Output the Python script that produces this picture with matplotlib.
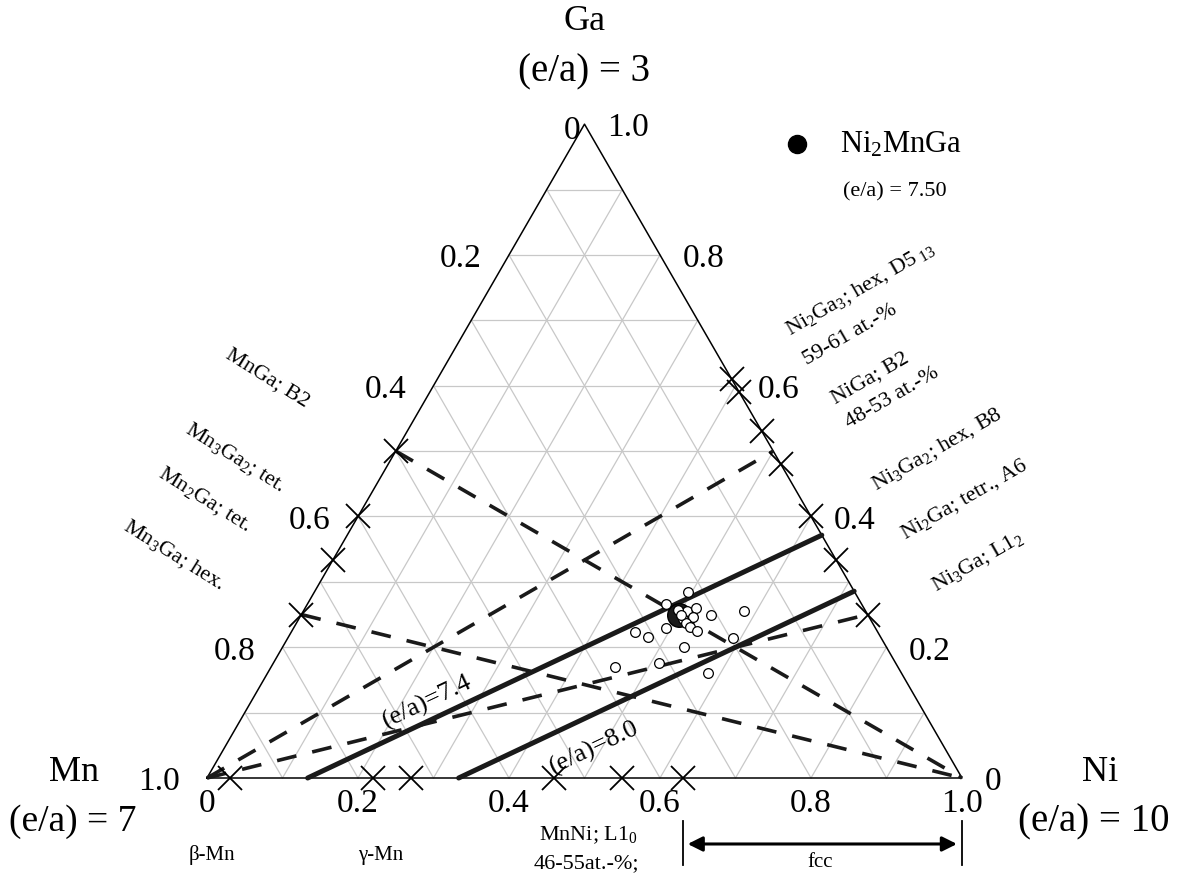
import numpy as np
import matplotlib
matplotlib.use("Agg")
import matplotlib.pyplot as plt

plt.rcParams['font.family'] = ['Liberation Serif', 'DejaVu Serif']
plt.rcParams['mathtext.fontset'] = 'custom'
plt.rcParams['mathtext.rm'] = 'Liberation Serif'
plt.rcParams['mathtext.it'] = 'Liberation Serif:italic'

# valence electrons per atom of the pure elements
ea_mn, ea_ni, ea_ga = 7, 10, 3

# compositions are given as (Ni fraction, Ga fraction); Mn is the rest
ni_pts = [0.495, 0.475, 0.508, 0.518, 0.521, 0.509, 0.543, 0.516, 0.524, 0.537, 0.493,
          0.584, 0.455, 0.476, 0.590, 0.532, 0.511, 0.456, 0.583, 0.495, 0.503]
ga_pts = [0.284, 0.266, 0.255, 0.260, 0.246, 0.243, 0.249, 0.237, 0.231, 0.225, 0.229,
          0.255, 0.223, 0.216, 0.214, 0.200, 0.176, 0.170, 0.161, 0.257, 0.249]

heusler = (0.5, 0.25)   # Ni2MnGa

# binary phases marked on the triangle edges
mnga_side_ga = [0.5, 0.4, 1 / 3, 0.25]
niga_side_ga = [0.61, 0.59, 0.53, 0.48, 0.4, 1 / 3, 0.25]
mnni_side_ni = [0.03, 0.22, 0.27, 0.46, 0.55, 0.63]

# tie lines between phases
tie_lines = [((0.0, 0.5), (1.0, 0.0)),
             ((0.0, 0.25), (1.0, 0.0)),
             ((0.0, 0.0), (0.5, 0.5)),
             ((0.0, 0.0), (0.75, 0.25))]

ea_lines = [7.4, 8.0]
ea_label_pos = [(0.2914, 0.102), (0.5126, 0.041)]
fcc_range = (0.63, 1.0)

tick_vals = [0, 0.2, 0.4, 0.6, 0.8, 1.0]
tick_text = ['0', '0.2', '0.4', '0.6', '0.8', '1.0']

H = np.sqrt(3) / 2


def tern(ni, ga):
    ni = np.asarray(ni, dtype=float)
    ga = np.asarray(ga, dtype=float)
    return ni + ga / 2, ga * H


fig = plt.figure(figsize=(11.78, 8.78), dpi=100)
ax = fig.add_axes([0, 0, 1, 1])
ax.set_xlim(-207 / 755, 971 / 755)
ax.set_ylim(-99 / 755, 779 / 755)
ax.axis('off')

# grid
for k in range(1, 10):
    t = k / 10
    for a, b in [((0, t), (1 - t, t)), ((t, 0), (t, 1 - t)), ((1 - t, 0), (0, 1 - t))]:
        x, y = tern([a[0], b[0]], [a[1], b[1]])
        ax.plot(x, y, color='#c8c8c8', lw=0.9, zorder=1)

# frame
x, y = tern([0, 1, 0, 0], [0, 0, 1, 0])
ax.plot(x, y, color='black', lw=1.1, zorder=3)

# tie lines
for a, b in tie_lines:
    x, y = tern([a[0], b[0]], [a[1], b[1]])
    ax.plot(x, y, color='#1a1a1a', lw=2.6, ls=(0, (5.5, 4.5)), zorder=4)

# constant e/a lines
for ea, (lx, ly) in zip(ea_lines, ea_label_pos):
    ni0 = (ea - ea_mn) / (ea_ni - ea_mn)
    ga1 = (ea_ni - ea) / (ea_ni - ea_ga)
    x, y = tern([ni0, 1 - ga1], [0, ga1])
    ax.plot(x, y, color='#1a1a1a', lw=3.6, solid_capstyle='round', zorder=5)
    ang = np.degrees(np.arctan2(y[1] - y[0], x[1] - x[0]))
    ax.text(lx, ly, '(e/a)=%.1f' % ea, fontsize=19, rotation=ang,
            ha='center', va='center', rotation_mode='anchor', zorder=6)

# phase markers on edges
mk = dict(marker='x', ms=17, mew=1.3, color='black', ls='none', clip_on=False, zorder=6)
x, y = tern(np.zeros(len(mnga_side_ga)), mnga_side_ga)
ax.plot(x, y, **mk)
ga = np.array(niga_side_ga)
x, y = tern(1 - ga, ga)
ax.plot(x, y, **mk)
x, y = tern(mnni_side_ni, np.zeros(len(mnni_side_ni)))
ax.plot(x, y, **mk)

# alloys
x, y = tern(*heusler)
ax.plot(x, y, 'o', ms=17, color='#1a1a1a', mec='black', zorder=7)
x, y = tern(ni_pts, ga_pts)
ax.plot(x, y, 'o', ms=7, mfc='white', mec='black', mew=0.9, ls='none', zorder=8)

# tick labels
for v, s in zip(tick_vals, tick_text):
    x, y = tern(v, 0)
    ax.text(x, -0.033, s, fontsize=24, ha='center', va='center')
    # Mn fraction on the left edge
    x, y = tern(0, 1 - v)
    if v == 0:
        ax.text(x - 0.005, y - 0.008, s, fontsize=24, ha='right', va='center')
    else:
        ax.text(x - 0.036, y - 0.004, s, fontsize=24, ha='right', va='center')
    # Ga fraction on the right edge
    x, y = tern(1 - v, v)
    ax.text(x + 0.03, y - 0.004, s if v > 0 else '', fontsize=24, ha='left', va='center')
ax.text(1.03, -0.004, '0', fontsize=24, ha='left', va='center')

# corner labels
ax.text(0.5, 1.003, 'Ga', fontsize=26, ha='center', va='center')
ax.text(0.5, 0.9364, '(e/a) = 3', fontsize=28, ha='center', va='center')
ax.text(-0.176, 0.008, 'Mn', fontsize=26, ha='center', va='center')
ax.text(-0.1775, -0.057, '(e/a) = 7', fontsize=27, ha='center', va='center')
ax.text(1.1828, 0.008, 'Ni', fontsize=26, ha='center', va='center')
ax.text(1.1748, -0.057, '(e/a) = 10', fontsize=28, ha='center', va='center')

# legend
ax.plot(0.7815, 0.8397, 'o', ms=13, color='black', clip_on=False)
ax.text(0.838, 0.8397, 'Ni$_2$MnGa', fontsize=22, ha='left', va='center')
ax.text(0.8424, 0.7775, '(e/a) = 7.50', fontsize=16, ha='left', va='center')

# phase names, Mn-Ga side
left_names = [('MnGa; B2', 0.0808, 0.5311),
              ('Mn$_3$Ga$_2$; tet.', 0.0371, 0.4252),
              ('Mn$_2$Ga; tet.', -0.004, 0.3695),
              ('Mn$_3$Ga; hex.', -0.0437, 0.2967)]
for s, x, y in left_names:
    ax.text(x, y, s, fontsize=16, rotation=-32, ha='center', va='center',
            rotation_mode='anchor')

# phase names, Ni-Ga side
right_names = [('Ni$_2$Ga$_3$; hex, D5$_{\\ 13}$', 0.8649, 0.6477),
               ('59-61 at.-%', 0.8517, 0.5881),
               ('NiGa; B2', 0.8781, 0.5311),
               ('48-53 at.-%', 0.9073, 0.5046),
               ('Ni$_3$Ga$_2$; hex, B8', 0.9669, 0.4358),
               ('Ni$_2$Ga; tetr., A6', 1.004, 0.3695),
               ('Ni$_3$Ga; L1$_2$', 1.0212, 0.2874)]
for s, x, y in right_names:
    ax.text(x, y, s, fontsize=16, rotation=30, ha='center', va='center',
            rotation_mode='anchor')

# phase names, Mn-Ni side
ax.text(0.0066, -0.1007, 'β-Mn', fontsize=15, ha='center', va='center')
ax.text(0.2305, -0.1007, 'γ-Mn', fontsize=15, ha='center', va='center')
ax.text(0.5046, -0.0742, 'MnNi; L1$_0$', fontsize=16, ha='center', va='center')
ax.text(0.502, -0.1126, '46-55at.-%;', fontsize=16, ha='center', va='center')

# fcc range
for v in fcc_range:
    ax.plot([v, v], [-0.057, -0.115], color='black', lw=1.3, clip_on=False)
ax.annotate('', xy=(fcc_range[0] + 0.003, -0.0874), xytext=(fcc_range[1] - 0.003, -0.0874),
            arrowprops=dict(arrowstyle='<|-|>', color='black', lw=2.2, mutation_scale=22))
ax.text(0.812, -0.110, 'fcc', fontsize=15, ha='center', va='center')

fig.savefig('out.png', dpi=100)
